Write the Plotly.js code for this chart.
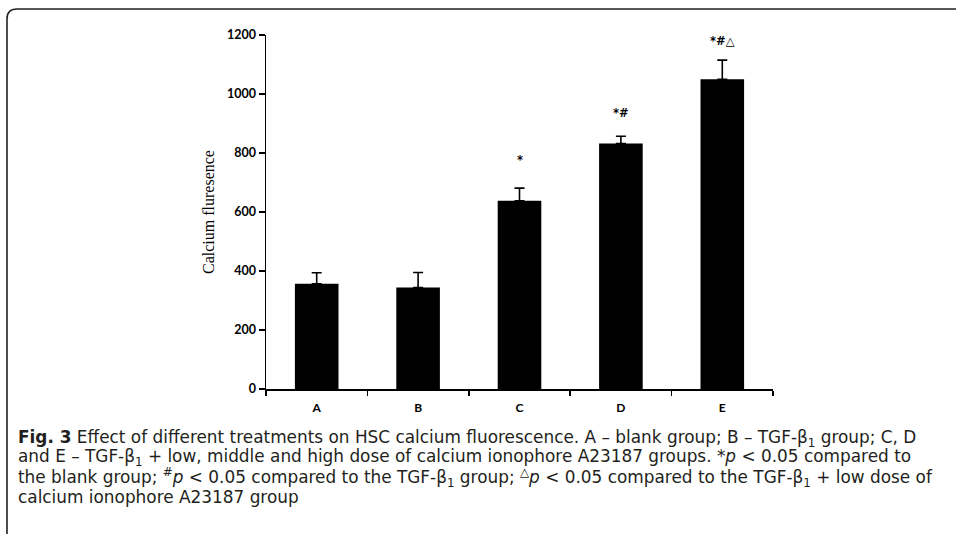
<!DOCTYPE html>
<html>
<head>
<meta charset="utf-8">
<script src="https://cdn.plot.ly/plotly-3.0.1.min.js"></script>
<style>
  html, body { margin: 0; padding: 0; background: #fff; }
  #chart { width: 956px; height: 534px; }
</style>
</head>
<body>
<div id="chart"></div>
<script>
// ---- data ----
const categories = ["A", "B", "C", "D", "E"];
const meanValues = [357, 344, 638, 832, 1050];
const errorUpper = [37, 51, 43, 25, 65];
const sigLabels = ["", "", "*", "*#", "*#\u25B3"];
const sigLabelY = [0, 0, 776, 935, 1178];
const yTickValues = [0, 200, 400, 600, 800, 1000, 1200];
const yAxisTitle = "Calcium fluresence";
const captionLines = [
  "<b>Fig. 3</b> Effect of different treatments on HSC calcium fluorescence. A \u2013 blank group; B \u2013 TGF-\u03B2<sub>1</sub> group; C, D",
  "and E \u2013 TGF-\u03B2<sub>1</sub> + low, middle and high dose of calcium ionophore A23187 groups. *<i>p</i> &lt; 0.05 compared to",
  "the blank group; <sup>#</sup><i>p</i> &lt; 0.05 compared to the TGF-\u03B2<sub>1</sub> group; <sup>\u25B3</sup><i>p</i> &lt; 0.05 compared to the TGF-\u03B2<sub>1</sub> + low dose of",
  "calcium ionophore A23187 group"
];

// ---- geometry helpers (pixel -> paper) ----
const W = 956, H = 534;
const M = { l: 266, r: 183, t: 35, b: 145 };
const PW = W - M.l - M.r, PH = H - M.t - M.b;
const px2x = p => (p - M.l) / PW;
const py2y = p => (H - M.b - p) / PH;

const trace = {
  type: "bar",
  x: categories,
  y: meanValues,
  width: 0.43,
  marker: { color: "#000000", line: { width: 0 } },
  error_y: {
    type: "data",
    symmetric: false,
    array: errorUpper,
    arrayminus: categories.map(() => 0),
    color: "#000000",
    thickness: 1.6,
    width: 5
  },
  hoverinfo: "none"
};

const annotations = [];
categories.forEach((c, i) => {
  if (sigLabels[i]) {
    annotations.push({
      x: c, y: sigLabelY[i], xref: "x", yref: "y",
      text: "<b>" + sigLabels[i] + "</b>", showarrow: false,
      font: { family: "DejaVu Sans", size: 11.5, color: "#000" },
      xanchor: "center", yanchor: "middle"
    });
  }
});

const lineCenters = [438, 457.5, 477, 496.5];
captionLines.forEach((t, i) => {
  annotations.push({
    x: px2x(16), y: py2y(lineCenters[i]), xref: "paper", yref: "paper",
    text: t, showarrow: false, align: "left",
    xanchor: "left", yanchor: "middle",
    font: { family: "DejaVu Sans", size: 16.9, color: "#231f20" }
  });
});

// frame with rounded top-left corner
const r = 10;
const fx = 7, fy = 9;
const framePath =
  `M ${px2x(fx)},${py2y(H + 5)} L ${px2x(fx)},${py2y(fy + r)} ` +
  `Q ${px2x(fx)},${py2y(fy)} ${px2x(fx + r)},${py2y(fy)} L ${px2x(W + 5)},${py2y(fy)}`;

const layout = {
  width: W, height: H,
  margin: M,
  paper_bgcolor: "#ffffff",
  plot_bgcolor: "#ffffff",
  showlegend: false,
  xaxis: {
    type: "category",
    tickson: "boundaries",
    ticks: "outside", ticklen: 5, tickwidth: 1.5, tickcolor: "#000",
    ticklabelstandoff: 7,
    showline: true, linecolor: "#000", linewidth: 1.5,
    showgrid: false, zeroline: false,
    tickfont: { family: "Lato", size: 12, color: "#000", weight: "bold" },
    fixedrange: true
  },
  yaxis: {
    range: [0, 1200],
    tickvals: yTickValues,
    ticks: "outside", ticklen: 6, tickwidth: 1.5, tickcolor: "#000",
    showline: true, linecolor: "#000", linewidth: 1.5,
    showgrid: false, zeroline: false,
    tickfont: { family: "Lato", size: 12.5, color: "#000", weight: "bold" },
    title: { text: yAxisTitle, font: { family: "Liberation Serif", size: 16, color: "#000" }, standoff: 8 },
    fixedrange: true
  },
  annotations: annotations,
  shapes: [{
    type: "path", xref: "paper", yref: "paper",
    path: framePath,
    line: { color: "#222", width: 1.6 }
  }]
};

Plotly.newPlot("chart", [trace], layout, { staticPlot: true, displayModeBar: false });
</script>
</body>
</html>
